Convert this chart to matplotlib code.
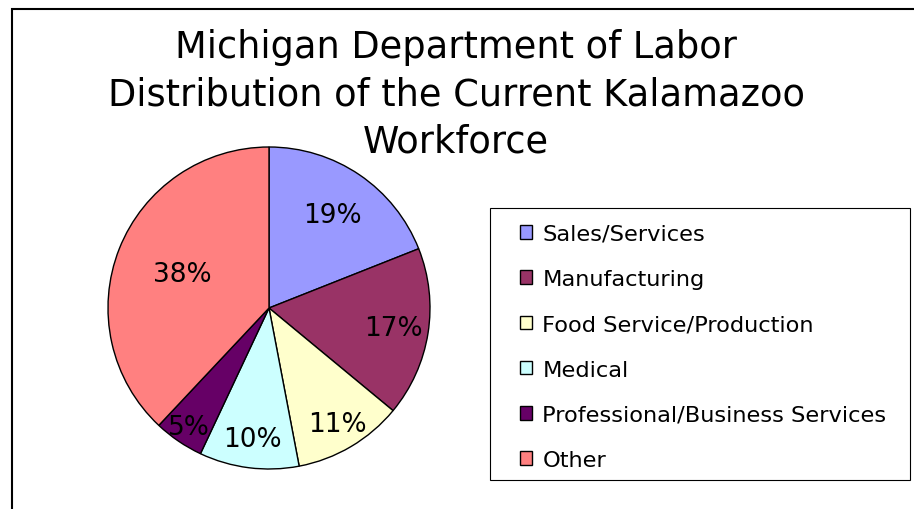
import matplotlib
matplotlib.use("Agg")
import matplotlib.pyplot as plt
from matplotlib.patches import Rectangle
import numpy as np

categories = ["Sales/Services", "Manufacturing", "Food Service/Production",
              "Medical", "Professional/Business Services", "Other"]
values = [19, 17, 11, 10, 5, 38]
colors = ["#9999FF", "#993366", "#FFFFCC", "#CCFFFF", "#660066", "#FF8080"]
label_r = [0.70, 0.78, 0.84, 0.82, 0.89, 0.58]
title = "Michigan Department of Labor\nDistribution of the Current Kalamazoo\nWorkforce"

FONT = "DejaVu Sans"
W, H = 914, 510
fig = plt.figure(figsize=(W / 100, H / 100), dpi=100)

# outer frame
fig.patches.append(Rectangle((12 / W, -0.1), 1.2, (H - 10) / H + 0.1, transform=fig.transFigure,
                             fill=False, edgecolor="black", linewidth=1.5))

fig.text(456 / W, 1 - 95 / H, title, ha="center", va="center", fontsize=26.5,
         family=FONT, linespacing=1.36)

cx, cy, R = 269, 309, 161
ax = fig.add_axes([(cx - R) / W, 1 - (cy + R) / H, 2 * R / W, 2 * R / H])
wedges, _ = ax.pie(values, colors=colors, startangle=90, counterclock=False,
                   wedgeprops=dict(edgecolor="black", linewidth=1.0), radius=1.0)
ax.set_xlim(-1, 1)
ax.set_ylim(-1, 1)
ax.set_aspect("equal")
ax.axis("off")
for w, v, r in zip(wedges, values, label_r):
    ang = np.deg2rad((w.theta1 + w.theta2) / 2)
    ax.text(r * np.cos(ang), r * np.sin(ang), f"{v}%", ha="center", va="center",
            fontsize=19, family=FONT, color="black")

# legend frame
fig.patches.append(Rectangle((490 / W, 1 - 481 / H), 420 / W, 272 / H, transform=fig.transFigure,
                             fill=False, edgecolor="black", linewidth=0.8))

handles = [Rectangle((0, 0), 1, 1, facecolor=c, edgecolor="black", linewidth=1.0) for c in colors]
leg = fig.legend(handles, categories, loc="upper left",
                 bbox_to_anchor=(520 / W, 1 - 225 / H), bbox_transform=fig.transFigure,
                 prop=dict(family=FONT, size=16.2), frameon=False,
                 handlelength=0.55, handleheight=0.55,
                 handletextpad=0.45, labelspacing=1.12, borderpad=0, borderaxespad=0)

fig.savefig("out.png", dpi=100)
